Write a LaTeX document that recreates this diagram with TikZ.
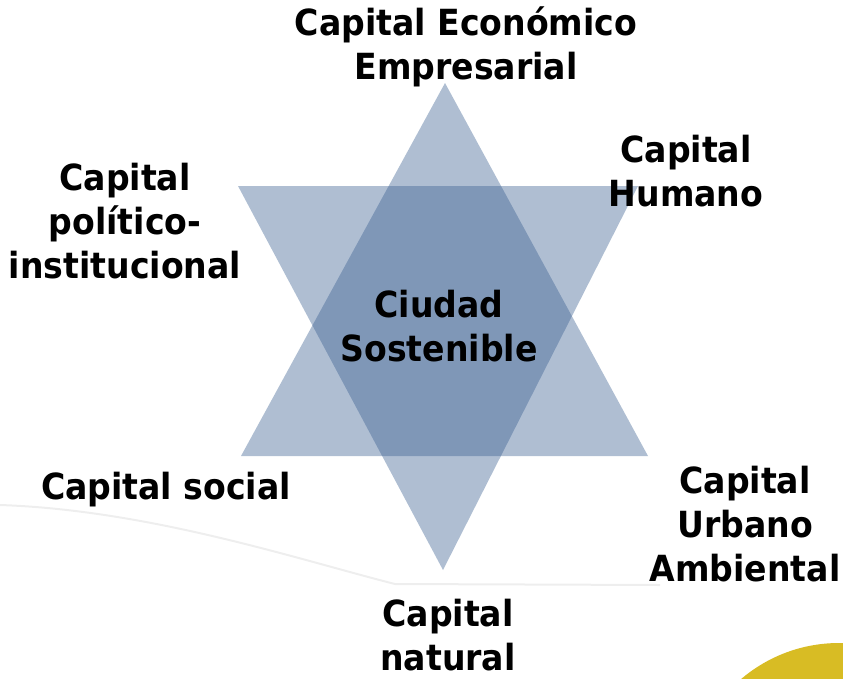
\documentclass[tikz,border=0pt]{standalone}
\usepackage{fontspec}
\setmainfont{DejaVu Sans}[FakeStretch=0.92]
\definecolor{starblue}{RGB}{55,93,143}
\definecolor{sunyellow}{RGB}{216,188,36}
\definecolor{swoosh}{RGB}{238,238,238}
\begin{document}
\begin{tikzpicture}[x=1pt,y=-1pt,
  tri/.style={fill=starblue,fill opacity=0.4,draw=none},
  lbl/.style={align=center,inner sep=0pt,font=\fontsize{36}{44}\selectfont\bfseries,text=black}]
\useasboundingbox (0,0) rectangle (843,678);
% background swoosh
\coordinate (s0) at (0,505);
\coordinate (s1) at (395,584);
\coordinate (s2) at (660,585);
\draw[swoosh,line width=2pt] (s0) .. controls (150,510) and (300,560) .. (s1) -- (s2);
% yellow sun
\coordinate (sun) at (839,794);
\fill[sunyellow] (sun) circle[radius=151];
% star
\coordinate (ua) at (445,83);
\coordinate (ul) at (241,456);
\coordinate (ur) at (648,456);
\coordinate (dl) at (238,186);
\coordinate (dr) at (638,186);
\coordinate (db) at (443,570);
\fill[tri] (ua) -- (ul) -- (ur) -- cycle;
\fill[tri] (dl) -- (dr) -- (db) -- cycle;
% labels
\node[lbl] (eco) at (466,47) {Capital Económico\\Empresarial};
\node[lbl] (hum) at (686,171) {Capital\\Humano};
\node[lbl] (pol) at (125,221) {Capital\\político-\\institucional};
\node[lbl] (ciu) at (439,326) {Ciudad\\Sostenible};
\node[lbl] (soc) at (166,490) {Capital social};
\node[lbl] (urb) at (745,524) {Capital\\Urbano\\Ambiental};
\node[lbl] (nat) at (448,635) {Capital\\natural};
\end{tikzpicture}
\end{document}
